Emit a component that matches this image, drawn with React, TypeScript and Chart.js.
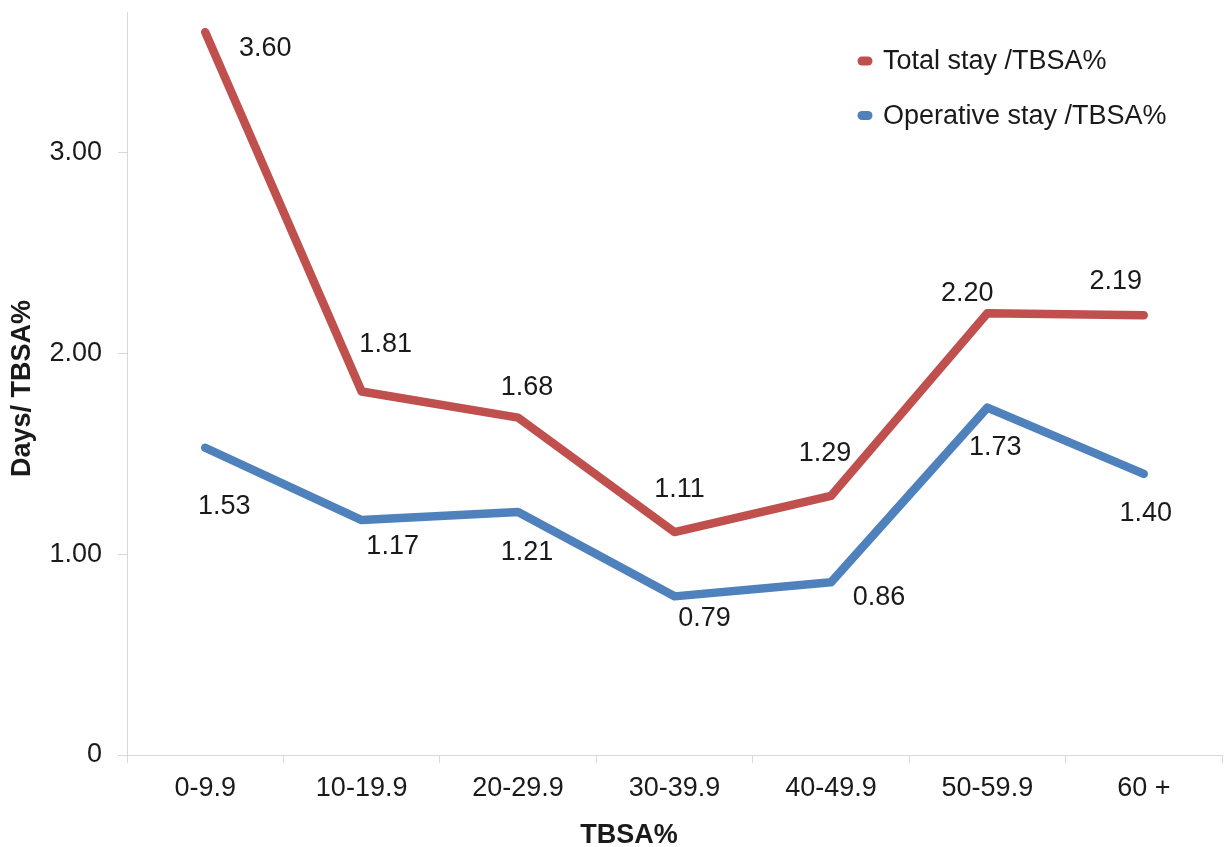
import React, { useEffect, useRef } from "react";
import { Chart, registerables } from "chart.js";

Chart.register(...registerables);

const categories = ["0-9.9", "10-19.9", "20-29.9", "30-39.9", "40-49.9", "50-59.9", "60 +"];
const totalStay = [3.6, 1.81, 1.68, 1.11, 1.29, 2.2, 2.19];
const operativeStay = [1.53, 1.17, 1.21, 0.79, 0.86, 1.73, 1.4];
const seriesNames = ["Total stay /TBSA%", "Operative stay /TBSA%"];
const yTickValues = [0, 1, 2, 3];
const yAxisMax = 3.7;
const xTitle = "TBSA%";
const yTitle = "Days/ TBSA%";

// label placement offsets (layout only, pixels relative to each point)
const totalLabelOffsets = [[60, 16], [24, -47], [9, -30], [5, -43], [-6, -42], [-20, -20], [-28, -34]];
const operativeLabelOffsets = [[19, 59], [31, 26], [9, 41], [30, 22], [48, 15], [8, 40], [2, 40]];

const RED = "#C0504D";
const BLUE = "#4F81BD";
const TEXT = "#1a1a1a";
const AXIS = "#d9d9d9";
const FONT = "'Liberation Sans', Arial, sans-serif";
const FS = 27;

const overlayPlugin = {
  id: "overlay",
  afterDatasetsDraw(chart: any) {
    const ctx = chart.ctx;
    const area = chart.chartArea;
    ctx.save();
    // data labels
    ctx.font = `${FS}px ${FONT}`;
    ctx.fillStyle = TEXT;
    ctx.textAlign = "center";
    ctx.textBaseline = "middle";
    const offs = [totalLabelOffsets, operativeLabelOffsets];
    chart.data.datasets.forEach((ds: any, di: number) => {
      const meta = chart.getDatasetMeta(di);
      meta.data.forEach((pt: any, i: number) => {
        const o = offs[di][i];
        ctx.fillText(Number(ds.data[i]).toFixed(2), pt.x + o[0], pt.y + o[1]);
      });
    });
    // legend
    const colors = [RED, BLUE];
    const legendX = area.right - 357;
    const legendYs = [area.top + 49, area.top + 103.5];
    seriesNames.forEach((name, i) => {
      const y = legendYs[i];
      ctx.fillStyle = colors[i];
      ctx.beginPath();
      const w = 15, h = 9, r = 4.5;
      const x0 = legendX - w / 2;
      ctx.moveTo(x0 + r, y - h / 2);
      ctx.lineTo(x0 + w - r, y - h / 2);
      ctx.arc(x0 + w - r, y, r, -Math.PI / 2, Math.PI / 2);
      ctx.lineTo(x0 + r, y + h / 2);
      ctx.arc(x0 + r, y, r, Math.PI / 2, (3 * Math.PI) / 2);
      ctx.closePath();
      ctx.fill();
      ctx.fillStyle = TEXT;
      ctx.textAlign = "left";
      ctx.font = `${FS}px ${FONT}`;
      ctx.fillText(name, legendX + 18, y + 1);
    });
    // axis titles
    ctx.font = `bold ${FS}px ${FONT}`;
    ctx.fillStyle = TEXT;
    ctx.textAlign = "center";
    ctx.textBaseline = "middle";
    ctx.fillText(xTitle, 629, area.bottom + 81);
    ctx.translate(23, (area.top + area.bottom) / 2 + 5);
    ctx.rotate(-Math.PI / 2);
    ctx.fillText(yTitle, 0, 0);
    ctx.restore();
  },
};

export default function App() {
  const canvasRef = useRef<HTMLCanvasElement | null>(null);

  useEffect(() => {
    document.body.style.margin = "0";
    const canvas = canvasRef.current;
    if (!canvas) return;
    const chart = new Chart(canvas, {
      type: "line",
      data: {
        labels: categories,
        datasets: [
          {
            label: seriesNames[0],
            data: totalStay,
            borderColor: RED,
            backgroundColor: RED,
            borderWidth: 8.5,
            borderCapStyle: "round",
            borderJoinStyle: "round",
            pointRadius: 0,
            tension: 0,
          },
          {
            label: seriesNames[1],
            data: operativeStay,
            borderColor: BLUE,
            backgroundColor: BLUE,
            borderWidth: 8.5,
            borderCapStyle: "round",
            borderJoinStyle: "round",
            pointRadius: 0,
            tension: 0,
          },
        ],
      },
      options: {
        animation: false,
        responsive: true,
        maintainAspectRatio: false,
        layout: { padding: { left: 0, top: 12, right: 6, bottom: 0 } },
        plugins: {
          legend: { display: false },
          tooltip: { enabled: false },
          title: { display: false },
        },
        scales: {
          x: {
            type: "category",
            offset: true,
            grid: {
              offset: true,
              drawOnChartArea: false,
              drawTicks: true,
              tickLength: 8,
              color: AXIS,
            },
            border: { display: true, color: AXIS, width: 1 },
            ticks: {
              color: TEXT,
              font: { family: FONT, size: FS },
              padding: 9,
              maxRotation: 0,
              autoSkip: false,
            },
            afterFit: (scale: any) => {
              scale.height = 92;
              scale.paddingLeft = 0;
              scale.paddingRight = 0;
            },
          },
          y: {
            type: "linear",
            min: 0,
            max: yAxisMax,
            grid: {
              drawOnChartArea: false,
              drawTicks: true,
              tickLength: 9,
              color: AXIS,
            },
            border: { display: true, color: AXIS, width: 1 },
            ticks: {
              color: TEXT,
              font: { family: FONT, size: FS },
              padding: 16,
              callback: (v: any) => (Number(v) === 0 ? "0" : Number(v).toFixed(2)),
            },
            afterBuildTicks: (scale: any) => {
              scale.ticks = yTickValues.map((v) => ({ value: v }));
            },
            afterFit: (scale: any) => {
              scale.width = 127;
              scale.paddingTop = 0;
              scale.paddingBottom = 0;
            },
          },
        },
      },
      plugins: [overlayPlugin],
    } as any);
    return () => chart.destroy();
  }, []);

  return (
    <div style={{ position: "fixed", left: 0, top: 0, width: 1228, height: 847, background: "#fff" }}>
      <canvas ref={canvasRef} />
    </div>
  );
}
